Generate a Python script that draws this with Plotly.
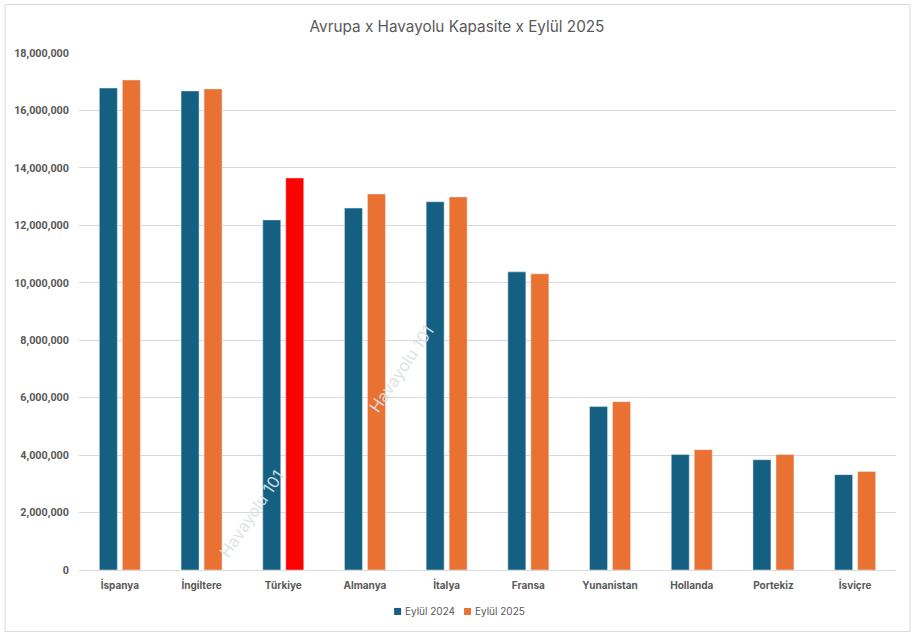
"""
Avrupa x Havayolu Kapasite x Eylül 2025 - grouped bars with Türkiye highlighted.
"""

import plotly.graph_objects as go

TITLE = "Avrupa x Havayolu Kapasite x Eylül 2025"
COUNTRIES = ["İspanya", "İngiltere", "Türkiye", "Almanya", "İtalya",
             "Fransa", "Yunanistan", "Hollanda", "Portekiz", "İsviçre"]
SEATS_2024 = [16780000, 16680000, 12190000, 12600000, 12820000,
              10380000, 5690000, 4020000, 3840000, 3320000]
SEATS_2025 = [17060000, 16750000, 13650000, 13090000, 12990000,
              10310000, 5860000, 4190000, 4020000, 3430000]
SERIES_NAMES = ["Eylül 2024", "Eylül 2025"]
Y_TICKS = [0, 2000000, 4000000, 6000000, 8000000, 10000000,
           12000000, 14000000, 16000000, 18000000]
WATERMARK = "Havayolu 101"

BLUE = "#156082"
ORANGE = "#E97132"
RED = "#FF0000"
GRAY = "#595959"
FONT = "Inter"

W, H = 915, 637
LEFT, RIGHT, TOP, BOTTOM = 78.5, 896.5, 53, 570.5


def px_x(px):
    return (px - LEFT) / (RIGHT - LEFT)


def px_y(px):
    return (BOTTOM - px) / (BOTTOM - TOP)


orange_colors = [RED if c == "Türkiye" else ORANGE for c in COUNTRIES]

fig = go.Figure()
fig.add_bar(x=COUNTRIES, y=SEATS_2024, name=SERIES_NAMES[0], marker_color=BLUE)
fig.add_bar(x=COUNTRIES, y=SEATS_2025, name=SERIES_NAMES[1], marker_color=orange_colors)

fig.update_layout(
    width=W,
    height=H,
    autosize=False,
    barmode="group",
    bargap=0.437,
    bargroupgap=0.217,
    margin=dict(l=LEFT, r=W - RIGHT, t=TOP, b=H - BOTTOM, pad=0, autoexpand=False),
    paper_bgcolor="white",
    plot_bgcolor="white",
    font=dict(family=FONT, color=GRAY, size=10),
    title=dict(text=TITLE, x=457 / W, xanchor="center", y=1 - 27 / H, yanchor="middle",
               font=dict(size=15.3, color=GRAY)),
    showlegend=False,
)

fig.update_xaxes(
    showgrid=False, ticks="", showline=True, linecolor="#D9D9D9", linewidth=1,
    tickfont=dict(size=10, color=GRAY, family=FONT, weight="bold"),
    ticklabelstandoff=6,
)
fig.update_yaxes(
    range=[0, 18000000], tickvals=Y_TICKS, tickformat=",d",
    showgrid=True, gridcolor="#D9D9D9", gridwidth=1, zeroline=False, ticks="",
    tickfont=dict(size=10.8, color=GRAY, family="Roboto", weight="bold"),
    ticklabelstandoff=9,
)

# chart border, same as the frame Excel draws around the chart
fig.add_shape(type="rect", xref="paper", yref="paper",
              x0=px_x(4.5), x1=px_x(910.5), y0=px_y(632), y1=px_y(4.5),
              line=dict(color="#D9D9D9", width=1), layer="below")

# legend drawn by hand: plotly's own swatches are bigger and sit further from the text
for name, color, sx, tx in zip(SERIES_NAMES, [BLUE, ORANGE], [394, 464], [403, 473]):
    fig.add_shape(type="rect", xref="paper", yref="paper",
                  x0=px_x(sx), x1=px_x(sx + 7), y0=px_y(615.5), y1=px_y(608.5),
                  fillcolor=color, line_width=0)
    fig.add_annotation(text=name, showarrow=False, xref="paper", yref="paper",
                       x=px_x(tx), y=px_y(612), xanchor="left", yanchor="middle",
                       font=dict(family=FONT, size=10, color=GRAY))

# two diagonal watermarks
for cx, cy in [(251, 514), (401, 369)]:
    fig.add_annotation(
        text=WATERMARK, showarrow=False, textangle=-56,
        xref="paper", yref="paper",
        x=px_x(cx), y=px_y(cy),
        xanchor="center", yanchor="middle",
        font=dict(family=FONT, size=16.5, color="rgba(218,225,229,0.95)"),
    )

fig.write_html("out.html", config={"displayModeBar": False},
               post_script="document.body.style.margin='0';")
